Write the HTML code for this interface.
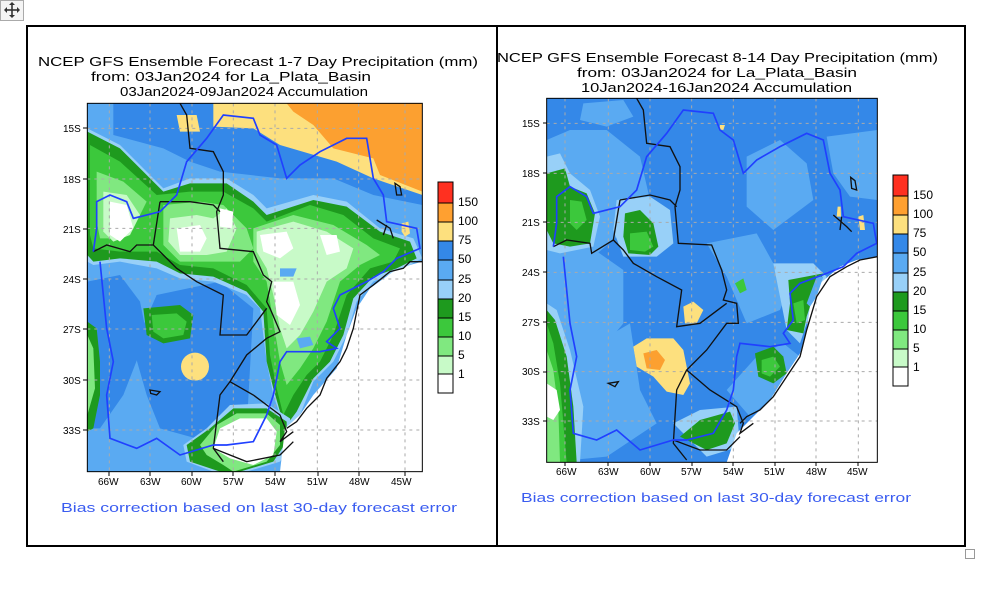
<!DOCTYPE html>
<html><head><meta charset="utf-8"><style>
html,body{margin:0;padding:0;background:#fff;width:988px;height:600px;overflow:hidden}
svg{display:block}
text{font-family:"Liberation Sans",sans-serif}
</style></head><body>
<svg width="988" height="600" viewBox="0 0 988 600" xmlns="http://www.w3.org/2000/svg">
<!-- move icon -->
<rect x="0.5" y="0.5" width="23" height="20" fill="#f4f4f4" stroke="#aaa"/>
<g stroke="#333" stroke-width="1.6" fill="#333"><line x1="5" y1="10" x2="19" y2="10"/><line x1="12" y1="3" x2="12" y2="17"/></g>
<g fill="#333"><path d="M12 2l-3 3h6z"/><path d="M12 18l-3-3h6z"/><path d="M4 10l3-3v6z"/><path d="M20 10l-3-3v6z"/></g>
<!-- frames -->
<rect x="27" y="26" width="938" height="520" fill="none" stroke="#000" stroke-width="2"/>
<line x1="497" y1="26" x2="497" y2="546" stroke="#000" stroke-width="2"/>
<rect x="965.5" y="549.5" width="9" height="9" fill="#fff" stroke="#999"/>

<!-- ===== LEFT PANEL ===== -->
<g font-size="13" fill="#000">
<text x="38" y="66" textLength="440" lengthAdjust="spacingAndGlyphs">NCEP GFS Ensemble Forecast 1-7 Day Precipitation (mm)</text>
<text x="91" y="81" textLength="280" lengthAdjust="spacingAndGlyphs">from: 03Jan2024   for La_Plata_Basin</text>
<text x="120" y="96" textLength="248" lengthAdjust="spacingAndGlyphs">03Jan2024-09Jan2024 Accumulation</text>
</g>
<defs><clipPath id="cl"><rect x="22" y="25" width="1005" height="1105"/></clipPath>
<clipPath id="cr"><rect x="20" y="25" width="992" height="1092"/></clipPath></defs>
<g transform="translate(80,95) scale(0.33333)">
<g clip-path="url(#cl)">
<rect x="22" y="25" width="1005" height="1105" fill="#5aaaf2"/>
<path d="M100 25H1027V330L880 300 760 250 600 250 420 230 330 200 250 160 100 120Z" fill="#3488e8"/>
<path d="M230 600L420 560 520 640 500 1000 420 1050 240 1000 200 900 160 760Z" fill="#3488e8"/>
<path d="M22 560L120 540 180 620 200 720 130 900 60 1000 22 1000Z" fill="#3488e8"/>
<path d="M400 25H1027V300L880 250 770 200 600 150 520 100 400 95Z" fill="#fde07e"/>
<path d="M290 60L350 60 360 110 300 110Z" fill="#fde07e"/>
<path d="M620 25H1027V290L900 240 880 190 760 160 700 90 640 50Z" fill="#fca030"/>
<!-- green main -->
<path d="M22 100L120 150 250 280 330 250 440 250 520 300 560 340 700 300 800 320 900 400 1000 430 1027 490 950 530 880 560 830 620 800 720 760 800 700 860 660 960 620 1000 600 960 580 900 560 800 540 640 500 600 400 560 300 550 230 520 120 500 40 510 22 500Z" fill="#98d0f8"/>
<path d="M22 110L120 160 250 290 330 265 440 265 520 320 560 360 700 315 800 335 900 410 990 440 1010 490 950 520 880 545 820 610 790 720 750 800 700 850 650 950 620 990 600 950 580 880 560 800 550 650 500 590 400 545 300 535 230 500 120 490 40 500 22 480Z" fill="#1e9a1e"/>
<path d="M30 150L120 200 230 300 330 290 430 290 520 340 560 380 690 330 790 360 880 430 960 460 940 500 870 520 800 600 760 720 720 800 680 840 640 900 610 960 590 880 570 780 560 640 500 570 400 520 300 510 230 470 120 470 40 460 30 420Z" fill="#3cc83c"/>
<path d="M50 230L130 260 200 320 160 400 120 430 60 430 50 380Z" fill="#80e880"/>
<path d="M250 330L360 320 430 330 500 400 520 460 480 500 380 500 300 500 250 450Z" fill="#80e880"/>
<path d="M520 400L640 360 760 390 860 450 900 480 840 510 780 560 740 680 700 760 660 820 620 870 600 800 580 680 560 560 520 500Z" fill="#80e880"/>
<path d="M70 290L140 300 180 360 150 420 100 440 70 410Z" fill="#c8fac8"/>
<path d="M270 370L350 360 400 370 440 340 470 400 440 470 380 480 300 480 265 440Z" fill="#c8fac8"/>
<path d="M530 410L640 380 740 410 820 460 800 520 740 560 700 650 660 720 620 760 600 700 580 600 560 520 530 470Z" fill="#c8fac8"/>
<path d="M90 320L140 330 160 400 120 440 90 420Z" fill="#fff"/>
<path d="M290 400L360 390 380 430 360 470 300 470Z" fill="#fff"/>
<path d="M420 340L460 350 455 400 420 395Z" fill="#fff"/>
<path d="M540 420L620 410 640 460 600 490 550 470Z" fill="#fff"/>
<path d="M580 560L640 560 660 630 630 690 590 660Z" fill="#fff"/>
<path d="M720 420L770 420 780 470 740 480Z" fill="#fff"/>
<path d="M600 520L650 520 640 545 600 545Z" fill="#5aaaf2"/>
<path d="M650 730L690 725 700 750 660 760Z" fill="#5aaaf2"/>
<!-- green blob 60W 27S -->
<path d="M190 640L300 630 340 660 330 730 250 745 200 720Z" fill="#1e9a1e"/>
<path d="M215 660L290 655 320 680 310 720 250 730 220 710Z" fill="#3cc83c"/>
<!-- left edge green -->
<path d="M22 680L50 700 60 800 60 900 40 1000 22 1010Z" fill="#1e9a1e"/>
<path d="M22 720L40 760 45 880 22 960Z" fill="#80e880"/>
<!-- yellow blob -->
<circle cx="345" cy="815" r="42" fill="#fde07e"/>
<!-- bottom white region -->
<path d="M380 1000L450 930 560 925 630 970 640 1040 600 1100 500 1130 400 1130 320 1100 310 1050Z" fill="#98d0f8"/>
<path d="M390 1000L460 940 560 940 620 980 620 1040 580 1100 480 1130 420 1130 330 1100 320 1050Z" fill="#1e9a1e"/>
<path d="M410 990L470 955 560 955 600 990 600 1050 560 1100 460 1130 430 1110 380 1080 360 1050Z" fill="#80e880"/>
<path d="M420 1000L480 970 560 970 590 1010 580 1080 520 1110 450 1090 400 1060Z" fill="#fff"/>
<!-- small yellow near 45W 21S -->
<path d="M965 385L985 380 990 415 975 425 965 410Z" fill="#fde07e"/>
<!-- ocean -->
<path d="M1027 500V1130H600L615 1000 660 960 700 900 770 820 800 720 830 640 870 580 940 530 990 510Z" fill="#fff"/>
<!-- grid -->
<g stroke="#aaa" stroke-width="3" stroke-dasharray="9 12">
<line x1="88" y1="25" x2="88" y2="1130"/><line x1="210" y1="25" x2="210" y2="1130"/><line x1="336" y1="25" x2="336" y2="1130"/><line x1="460" y1="25" x2="460" y2="1130"/><line x1="585" y1="25" x2="585" y2="1130"/><line x1="712" y1="25" x2="712" y2="1130"/><line x1="836" y1="25" x2="836" y2="1130"/><line x1="975" y1="25" x2="975" y2="1130"/>
<line x1="22" y1="100" x2="1027" y2="100"/><line x1="22" y1="252" x2="1027" y2="252"/><line x1="22" y1="400" x2="1027" y2="400"/><line x1="22" y1="552" x2="1027" y2="552"/><line x1="22" y1="702" x2="1027" y2="702"/><line x1="22" y1="855" x2="1027" y2="855"/><line x1="22" y1="1005" x2="1027" y2="1005"/>
</g>
<!-- black borders -->
<g fill="none" stroke="#111" stroke-width="4">
<path d="M300 25L320 60 330 160 400 170 430 230 430 300 410 350 420 460 520 470 550 540 575 560 560 620 570 640 600 710 560 730 500 780 450 860 420 900 400 1060 430 1100"/>
<path d="M240 320L330 320 400 330 420 350"/>
<path d="M40 470L80 450 150 470 170 450 220 450 250 480 290 520 350 560 430 600 420 720 500 720 560 640"/>
<path d="M240 320L220 450"/>
<path d="M450 860L520 900 600 960 620 1010 600 1040 640 1010"/>
<path d="M400 1060L500 1100 600 1080 640 1040"/>
<path d="M210 885L240 890 230 900 212 895Z"/>
<path d="M1027 500L990 500 970 520 930 530 880 570 840 600 820 700 800 760 780 800 740 850 720 900 680 940 650 980 620 1000"/>
<path d="M945 265L960 275 965 300 950 300Z"/>
<path d="M890 375L930 400 940 430M920 390L910 420"/>
</g>
<!-- blue basin -->
<g fill="none" stroke="#2040ff" stroke-width="5">
<path d="M40 470L50 400 50 320 90 300 140 320 160 370 240 350 290 300 320 200 380 130 430 60 520 70 540 120 590 150 620 250 660 210 720 170 800 130 860 130 880 250 910 300 920 380 1010 400 1020 460 950 490 910 530 860 560 780 600 760 640 780 700 740 740 770 760 720 770 620 770 600 800 580 900 560 960 520 1040 440 1050 400 1050 300 1080 230 1030 170 1060 90 1030 80 900 100 800 80 700 60 500"/>
</g>
</g>
<rect x="22" y="25" width="1005" height="1105" fill="none" stroke="#000" stroke-width="3"/>
</g>
<!-- left ticks & labels -->
<g font-size="10" fill="#000">
<text x="63" y="132">15S</text><text x="63" y="183">18S</text><text x="63" y="233">21S</text><text x="63" y="283">24S</text><text x="63" y="333">27S</text><text x="63" y="384">30S</text><text x="63" y="434">33S</text>
<text x="98" y="485">66W</text><text x="140" y="485">63W</text><text x="181" y="485">60W</text><text x="223" y="485">57W</text><text x="265" y="485">54W</text><text x="307" y="485">51W</text><text x="349" y="485">48W</text><text x="391" y="485">45W</text>
</g>
<g stroke="#000" stroke-width="1">
<path d="M83 128h4M83 179h4M83 229h4M83 279h4M83 329h4M83 380h4M83 430h4"/>
<path d="M109 472v4M150 472v4M192 472v4M233 472v4M275 472v4M318 472v4M359 472v4M405 472v4"/>
</g>
<!-- left colorbar -->
<g stroke="#000" stroke-width="1">
<rect x="438" y="182" width="15" height="21" fill="#ff3020"/>
<rect x="438" y="203" width="15" height="19" fill="#ffa030"/>
<rect x="438" y="222" width="15" height="19" fill="#fde07e"/>
<rect x="438" y="241" width="15" height="19" fill="#3488e8"/>
<rect x="438" y="260" width="15" height="20" fill="#5aaaf2"/>
<rect x="438" y="280" width="15" height="19" fill="#98d0f8"/>
<rect x="438" y="299" width="15" height="19" fill="#1e9a1e"/>
<rect x="438" y="318" width="15" height="19" fill="#3cc83c"/>
<rect x="438" y="337" width="15" height="19" fill="#80e880"/>
<rect x="438" y="356" width="15" height="18" fill="#c8fac8"/>
<rect x="438" y="374" width="15" height="19" fill="#fff"/>
</g>
<g font-size="12" fill="#000">
<text x="458" y="206">150</text><text x="458" y="225">100</text><text x="458" y="244">75</text><text x="458" y="263">50</text><text x="458" y="283">25</text><text x="458" y="302">20</text><text x="458" y="321">15</text><text x="458" y="340">10</text><text x="458" y="359">5</text><text x="458" y="378">1</text>
</g>
<text x="61" y="512" font-size="13" fill="#3a5cf0" textLength="396" lengthAdjust="spacingAndGlyphs">Bias correction based on last 30-day forecast error</text>

<!-- ===== RIGHT PANEL ===== -->
<g font-size="13" fill="#000">
<text x="497" y="62" textLength="441" lengthAdjust="spacingAndGlyphs">NCEP GFS Ensemble Forecast 8-14 Day Precipitation (mm)</text>
<text x="577" y="77" textLength="280" lengthAdjust="spacingAndGlyphs">from: 03Jan2024   for La_Plata_Basin</text>
<text x="581" y="92" textLength="271" lengthAdjust="spacingAndGlyphs">10Jan2024-16Jan2024 Accumulation</text>
</g>
<g transform="translate(540,90) scale(0.33333)">
<g clip-path="url(#cr)">
<rect x="20" y="25" width="992" height="1092" fill="#3488e8"/>
<path d="M20 150L90 120 200 120 300 200 330 330 220 450 160 500 80 480 20 470Z" fill="#5aaaf2"/>
<path d="M20 480L150 470 250 540 250 700 200 760 120 800 80 1000 20 1117Z" fill="#5aaaf2"/>
<path d="M100 800L270 700 300 900 350 1000 200 1100 20 1117 80 950Z" fill="#5aaaf2"/>
<path d="M230 330L330 320 390 360 400 460 350 500 250 500 220 420Z" fill="#98d0f8"/>
<path d="M20 200L60 190 90 250 150 300 180 380 160 470 60 490 20 480Z" fill="#98d0f8"/>
<path d="M620 200L720 150 800 220 820 330 700 420 620 350Z" fill="#5aaaf2"/>
<path d="M860 140L1012 120 1012 330 930 320 880 250Z" fill="#5aaaf2"/>
<path d="M130 40L250 30 280 80 200 110 120 90Z" fill="#5aaaf2"/>
<path d="M500 460L650 430 700 520 760 560 720 660 620 700 560 560Z" fill="#5aaaf2"/>
<path d="M560 900L650 800 730 760 780 800 700 920 630 980Z" fill="#5aaaf2"/>
<path d="M700 520L820 520 860 560 800 700 780 760 740 720Z" fill="#98d0f8"/>
<path d="M400 1000L480 960 590 950 600 1070 500 1100Z" fill="#98d0f8"/>
<!-- greens -->
<path d="M20 250L75 235 90 290 140 310 165 370 150 460 90 470 40 460 20 420Z" fill="#1e9a1e"/>
<path d="M90 330L125 335 140 390 110 420 90 400Z" fill="#3cc83c"/>
<path d="M255 370L300 360 340 400 355 470 330 495 265 490 250 440Z" fill="#1e9a1e"/>
<path d="M270 430L320 425 340 470 315 485 270 480Z" fill="#3cc83c"/>
<path d="M20 640L50 660 90 780 130 950 120 1117H20Z" fill="#98d0f8"/>
<path d="M20 660L45 690 80 800 100 950 110 1117H20Z" fill="#1e9a1e"/>
<path d="M20 700L40 760 60 880 80 1117H20Z" fill="#3cc83c"/>
<path d="M20 780L40 840 55 960 60 1117H20Z" fill="#80e880"/>
<path d="M20 880L50 900 60 960 40 990 20 980Z" fill="#fff"/>
<path d="M420 1040L480 990 570 965 585 1000 560 1060 500 1080Z" fill="#1e9a1e"/>
<path d="M745 570L850 550 820 620 800 680 790 730 740 720 750 640Z" fill="#1e9a1e"/>
<path d="M760 640L790 630 795 690 770 700Z" fill="#3cc83c"/>
<path d="M645 790L700 770 730 800 740 850 700 880 655 860Z" fill="#1e9a1e"/>
<path d="M665 810L700 800 720 830 690 860 665 850Z" fill="#3cc83c"/>
<path d="M585 580L610 565 620 600 600 610Z" fill="#3cc83c"/>
<!-- yellow/orange -->
<path d="M280 770L320 745 400 745 430 780 450 880 430 915 380 905 340 860 290 830Z" fill="#fde07e"/>
<path d="M310 790L350 780 375 810 360 840 320 835Z" fill="#fca030"/>
<path d="M430 650L460 635 490 660 470 700 435 700Z" fill="#fde07e"/>
<path d="M540 105L555 105 550 120 538 118Z" fill="#fde07e"/>
<path d="M955 380L970 375 975 420 960 420Z" fill="#fde07e"/>
<path d="M893 350L902 350 903 380 890 380Z" fill="#fde07e"/>
<!-- ocean -->
<path d="M1012 500V1117H560L590 1030 640 980 690 930 740 850 780 790 800 720 810 650 840 580 900 530 950 510Z" fill="#fff"/>
<path d="M810 650L830 620 850 560 830 560 800 640Z" fill="#5aaaf2"/>
<!-- grid -->
<g stroke="#aaa" stroke-width="3" stroke-dasharray="9 12">
<line x1="75" y1="25" x2="75" y2="1117"/><line x1="205" y1="25" x2="205" y2="1117"/><line x1="330" y1="25" x2="330" y2="1117"/><line x1="455" y1="25" x2="455" y2="1117"/><line x1="580" y1="25" x2="580" y2="1117"/><line x1="705" y1="25" x2="705" y2="1117"/><line x1="828" y1="25" x2="828" y2="1117"/><line x1="955" y1="25" x2="955" y2="1117"/>
<line x1="20" y1="100" x2="1012" y2="100"/><line x1="20" y1="250" x2="1012" y2="250"/><line x1="20" y1="397" x2="1012" y2="397"/><line x1="20" y1="547" x2="1012" y2="547"/><line x1="20" y1="697" x2="1012" y2="697"/><line x1="20" y1="845" x2="1012" y2="845"/><line x1="20" y1="993" x2="1012" y2="993"/>
</g>
<g fill="none" stroke="#111" stroke-width="4">
<path d="M290 25L310 60 320 160 390 170 420 230 420 300 405 350 415 460 515 465 545 540 560 600 550 630 590 640 595 700 560 700 500 780 440 840 410 900 400 1060 440 1110"/>
<path d="M240 330L330 315 390 330 410 350"/>
<path d="M40 470L80 450 150 460 155 490 220 450 250 480 280 520 350 560 425 600 410 710 480 700 560 640"/>
<path d="M240 330L220 450"/>
<path d="M440 840L510 900 590 950 610 1000 600 1030 640 1000"/>
<path d="M400 1050L480 1080 560 1080 600 1040"/>
<path d="M205 880L235 875 225 890Z"/>
<path d="M1012 500L960 510 920 530 870 560 830 620 800 720 780 800 740 860 700 920 660 960 620 980 600 1000"/>
<path d="M932 262L945 272 950 300 935 295Z"/>
<path d="M880 375L920 410 935 425M905 380L900 420"/>
</g>
<g fill="none" stroke="#2040ff" stroke-width="5">
<path d="M40 470L50 400 50 320 90 290 140 320 160 370 240 350 290 300 320 200 380 130 430 60 520 70 540 120 580 150 610 250 650 210 720 170 800 130 850 150 870 250 900 300 910 380 1000 400 1010 460 950 490 910 530 860 550 780 580 750 610 760 690 730 730 750 760 690 770 600 760 590 800 580 900 560 960 520 1030 440 1050 400 1050 300 1080 230 1020 170 1050 100 1030 90 900 110 800 90 700 70 500"/>
</g>
</g>
<rect x="20" y="25" width="992" height="1092" fill="none" stroke="#000" stroke-width="3"/>
</g>
<g font-size="10" fill="#000">
<text x="522" y="127">15S</text><text x="522" y="177">18S</text><text x="522" y="226">21S</text><text x="522" y="276">24S</text><text x="522" y="326">27S</text><text x="522" y="375">30S</text><text x="522" y="425">33S</text>
<text x="556" y="475">66W</text><text x="598" y="475">63W</text><text x="640" y="475">60W</text><text x="681" y="475">57W</text><text x="723" y="475">54W</text><text x="764" y="475">51W</text><text x="806" y="475">48W</text><text x="847" y="475">45W</text>
</g>
<g stroke="#000" stroke-width="1">
<path d="M543 123h4M543 173h4M543 222h4M543 272h4M543 322h4M543 372h4M543 421h4"/>
<path d="M565 462v4M608 462v4M650 462v4M692 462v4M733 462v4M775 462v4M816 462v4M858 462v4"/>
</g>
<g stroke="#000" stroke-width="1">
<rect x="893" y="175" width="15" height="21" fill="#ff3020"/>
<rect x="893" y="196" width="15" height="19" fill="#ffa030"/>
<rect x="893" y="215" width="15" height="19" fill="#fde07e"/>
<rect x="893" y="234" width="15" height="19" fill="#3488e8"/>
<rect x="893" y="253" width="15" height="20" fill="#5aaaf2"/>
<rect x="893" y="273" width="15" height="19" fill="#98d0f8"/>
<rect x="893" y="292" width="15" height="19" fill="#1e9a1e"/>
<rect x="893" y="311" width="15" height="19" fill="#3cc83c"/>
<rect x="893" y="330" width="15" height="19" fill="#80e880"/>
<rect x="893" y="349" width="15" height="18" fill="#c8fac8"/>
<rect x="893" y="367" width="15" height="19" fill="#fff"/>
</g>
<g font-size="12" fill="#000">
<text x="913" y="199">150</text><text x="913" y="218">100</text><text x="913" y="237">75</text><text x="913" y="256">50</text><text x="913" y="276">25</text><text x="913" y="295">20</text><text x="913" y="314">15</text><text x="913" y="333">10</text><text x="913" y="352">5</text><text x="913" y="371">1</text>
</g>
<text x="521" y="502" font-size="13" fill="#3a5cf0" textLength="390" lengthAdjust="spacingAndGlyphs">Bias correction based on last 30-day forecast error</text>
</svg>
</body></html>
